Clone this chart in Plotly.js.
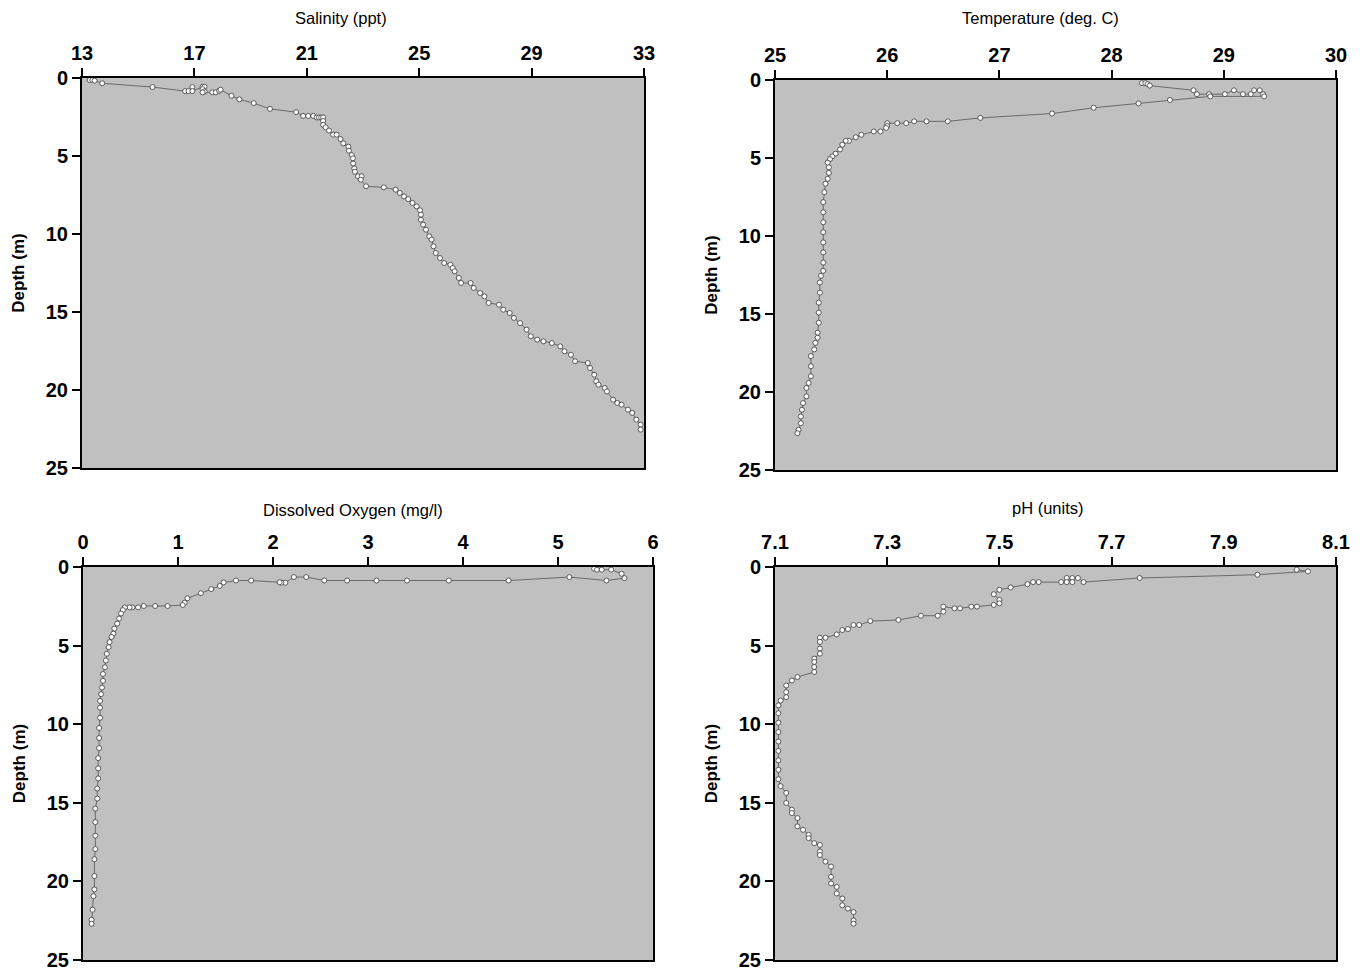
<!DOCTYPE html>
<html>
<head>
<meta charset="utf-8">
<script src="https://cdn.plot.ly/plotly-3.0.1.min.js"></script>
<style>html,body{margin:0;padding:0;background:#fff;}#chart{width:1366px;height:971px;}</style>
</head>
<body>
<div id="chart"></div>
<script>
// ---------- Salinity (ppt) ----------
const salValue = [13.27,13.37,13.45,13.72,15.51,16.67,16.79,16.93,16.93,17.29,17.36,17.29,17.36,17.29,17.64,17.76,17.88,17.93,18.32,18.6,19.11,19.69,20.62,20.87,21.05,21.23,21.35,21.43,21.51,21.58,21.58,21.58,21.67,21.79,21.94,22.06,22.2,22.3,22.48,22.5,22.6,22.64,22.65,22.69,22.71,22.82,22.95,22.92,23.11,23.74,24.16,24.31,24.46,24.61,24.76,24.91,25.03,25.06,25.06,25.14,25.24,25.36,25.44,25.51,25.59,25.74,25.89,26.11,26.19,26.26,26.41,26.49,26.83,26.94,27.17,27.32,27.47,27.84,27.99,28.22,28.37,28.59,28.82,28.97,29.2,29.42,29.72,30.02,30.17,30.4,30.55,31.0,31.08,31.23,31.3,31.38,31.6,31.68,31.9,32.05,32.2,32.43,32.58,32.73,32.88,32.88];
const salDepth = [0.13,0.13,0.17,0.34,0.58,0.84,0.84,0.58,0.84,0.56,0.56,0.71,0.86,0.92,0.92,0.92,0.82,0.75,1.14,1.37,1.61,1.98,2.19,2.43,2.43,2.43,2.53,2.53,2.53,2.53,2.75,3.0,3.16,3.37,3.63,3.63,3.91,4.19,4.4,4.66,4.94,5.15,5.48,5.8,6.01,6.3,6.3,6.52,6.94,7.01,7.16,7.37,7.59,7.76,8.01,8.23,8.48,8.76,9.08,9.4,9.72,10.15,10.36,10.79,11.22,11.54,11.86,11.97,12.18,12.39,12.82,13.14,13.14,13.46,13.78,14.0,14.42,14.53,14.85,15.06,15.38,15.71,16.13,16.56,16.77,16.88,16.99,17.2,17.52,17.74,18.16,18.27,18.59,19.02,19.44,19.66,19.87,20.09,20.62,20.83,20.94,21.26,21.47,21.9,22.22,22.54];

// ---------- Temperature (deg. C) ----------
const tempValue = [28.27,28.30,28.32,28.34,28.73,28.76,28.87,29.01,29.09,29.17,29.24,29.27,29.32,29.35,29.36,28.88,28.52,28.24,27.84,27.47,26.83,26.54,26.35,26.24,26.17,26.09,26.00,26.00,25.99,25.94,25.88,25.77,25.72,25.66,25.63,25.60,25.58,25.54,25.51,25.49,25.47,25.48,25.48,25.47,25.45,25.44,25.43,25.43,25.43,25.43,25.43,25.43,25.43,25.43,25.41,25.40,25.40,25.39,25.39,25.39,25.38,25.38,25.36,25.35,25.32,25.32,25.32,25.30,25.28,25.28,25.25,25.24,25.23,25.23,25.21,25.20];
const tempDepth = [0.20,0.20,0.26,0.36,0.66,0.91,0.91,0.91,0.66,0.91,0.91,0.66,0.66,0.91,1.05,1.05,1.28,1.50,1.78,2.15,2.43,2.65,2.65,2.65,2.77,2.77,2.77,2.94,3.07,3.30,3.30,3.51,3.67,3.90,3.90,4.15,4.45,4.72,4.90,5.07,5.30,5.60,5.95,6.33,6.65,7.19,7.83,8.48,9.12,9.76,10.41,11.05,11.70,12.23,12.55,12.98,13.63,14.27,14.91,15.56,16.20,16.52,16.85,17.27,17.70,18.35,18.99,19.42,19.74,20.28,20.71,21.14,21.57,22.00,22.42,22.64];

// ---------- Dissolved Oxygen (mg/l) ----------
const doValue = [5.38,5.41,5.46,5.56,5.67,5.70,5.51,5.12,4.48,3.85,3.41,3.09,2.78,2.54,2.35,2.22,2.13,2.09,2.07,1.77,1.61,1.48,1.44,1.35,1.24,1.10,1.07,1.05,0.89,0.76,0.64,0.58,0.52,0.49,0.44,0.42,0.40,0.38,0.36,0.33,0.32,0.30,0.28,0.27,0.25,0.24,0.23,0.21,0.21,0.20,0.19,0.18,0.18,0.18,0.17,0.17,0.17,0.16,0.16,0.16,0.15,0.15,0.13,0.13,0.13,0.13,0.12,0.12,0.12,0.11,0.10,0.09,0.09];
const doDepth = [0.11,0.17,0.17,0.17,0.43,0.71,0.86,0.64,0.86,0.86,0.86,0.86,0.86,0.86,0.64,0.64,1.00,1.00,0.97,0.86,0.86,0.98,1.20,1.41,1.67,1.99,2.27,2.42,2.48,2.48,2.48,2.57,2.57,2.57,2.57,2.74,2.96,3.28,3.60,3.92,4.24,4.45,4.78,5.10,5.52,5.95,6.38,6.81,7.24,7.67,8.09,8.52,8.95,9.59,10.24,10.88,11.52,12.16,12.81,13.45,14.09,14.73,15.37,16.23,17.09,17.94,18.59,19.66,20.51,20.94,21.80,22.44,22.70];

// ---------- pH (units) ----------
const phValue = [8.03,8.05,7.96,7.75,7.65,7.64,7.63,7.62,7.63,7.62,7.61,7.57,7.56,7.55,7.52,7.50,7.49,7.50,7.50,7.49,7.46,7.45,7.43,7.42,7.40,7.40,7.39,7.36,7.32,7.27,7.25,7.24,7.23,7.22,7.21,7.19,7.18,7.18,7.18,7.18,7.17,7.17,7.17,7.17,7.14,7.13,7.12,7.12,7.12,7.11,7.106,7.106,7.106,7.106,7.106,7.106,7.106,7.106,7.106,7.11,7.12,7.12,7.13,7.13,7.14,7.14,7.15,7.16,7.16,7.17,7.18,7.18,7.18,7.19,7.20,7.20,7.20,7.21,7.21,7.22,7.22,7.23,7.24,7.24,7.24];
const phDepth = [0.17,0.28,0.49,0.70,0.96,0.70,0.70,0.70,0.96,0.96,0.96,0.96,0.96,1.09,1.30,1.45,1.73,2.09,2.31,2.41,2.52,2.52,2.63,2.63,2.52,2.84,3.10,3.10,3.37,3.44,3.69,3.69,3.95,4.01,4.29,4.50,4.50,4.76,5.19,5.51,5.83,6.04,6.36,6.68,7.00,7.22,7.54,7.96,8.28,8.50,8.80,9.30,9.90,10.50,11.10,11.70,12.30,12.90,13.50,13.94,14.37,15.01,15.44,15.65,15.97,16.50,16.72,17.04,17.25,17.57,17.68,18.10,18.32,18.74,19.06,19.71,20.13,20.35,20.77,21.09,21.52,21.73,21.95,22.48,22.69];

const axisTitles = ['Salinity (ppt)', 'Temperature (deg. C)', 'Dissolved Oxygen (mg/l)', 'pH (units)'];
const depthTitle = 'Depth (m)';
const salTicks = [13,17,21,25,29,33];
const tempTicks = [25,26,27,28,29,30];
const doTicks = [0,1,2,3,4,5,6];
const phTicks = [7.1,7.3,7.5,7.7,7.9,8.1];
const phTickText = ['7.1','7.3','7.5','7.7','7.9','8.1'];
const depthTicks = [0,5,10,15,20,25];

const W = 1366, H = 971;
const FONT = 'Liberation Sans, Arial, Helvetica, sans-serif';

function trace(x, y, n) {
  return {
    type: 'scatter', mode: 'lines+markers',
    x: x, y: y,
    xaxis: 'x' + (n === 1 ? '' : n), yaxis: 'y' + (n === 1 ? '' : n),
    line: {color: '#6a6a6a', width: 1},
    marker: {symbol: 'circle', size: 5, color: '#ffffff', line: {color: '#3a3a3a', width: 0.8}},
    showlegend: false, hoverinfo: 'x+y'
  };
}

function xAx(px0, px1, range, ticks, yName, tickText) {
  const a = {
    domain: [px0 / W, px1 / W], anchor: yName, side: 'top', range: range,
    tickmode: 'array', tickvals: ticks,
    showgrid: false, zeroline: false,
    showline: true, linecolor: '#000', linewidth: 2, mirror: true,
    ticks: 'outside', ticklen: 8, tickwidth: 2, tickcolor: '#000',
    tickfont: {family: FONT, size: 20, color: '#000', weight: 'bold'},
    automargin: false, fixedrange: true
  };
  if (tickText) a.ticktext = tickText;
  return a;
}
function yAx(py0, py1, xName) {
  return {
    domain: [1 - py1 / H, 1 - py0 / H], anchor: xName, range: [25, 0],
    tickmode: 'array', tickvals: depthTicks,
    showgrid: false, zeroline: false,
    showline: true, linecolor: '#000', linewidth: 2, mirror: true,
    ticks: 'outside', ticklen: 8, tickwidth: 2, tickcolor: '#000',
    tickfont: {family: FONT, size: 20, color: '#000', weight: 'bold'},
    title: {text: depthTitle, font: {family: FONT, size: 17, color: '#000', weight: 'bold'}, standoff: 17},
    automargin: false, fixedrange: true
  };
}

// x-axis titles sit above the top axes, slightly left of the axis centre as in the original
function topTitle(text, cx, cy) {
  return {
    text: text, xref: 'paper', yref: 'paper', x: cx / W, y: 1 - cy / H,
    xanchor: 'center', yanchor: 'middle', showarrow: false,
    font: {family: FONT, size: 16.5, color: '#000'}
  };
}

const data = [
  trace(salValue, salDepth, 1),
  trace(tempValue, tempDepth, 2),
  trace(doValue, doDepth, 3),
  trace(phValue, phDepth, 4)
];

const layout = {
  width: W, height: H,
  margin: {l: 0, r: 0, t: 0, b: 0},
  paper_bgcolor: '#ffffff', plot_bgcolor: '#c0c0c0',
  font: {family: FONT, color: '#000'},
  xaxis:  xAx(82, 644, [13, 33], salTicks, 'y'),
  yaxis:  yAx(78, 468, 'x'),
  xaxis2: xAx(775, 1336, [25, 30], tempTicks, 'y2'),
  yaxis2: yAx(80, 470, 'x2'),
  xaxis3: xAx(83, 653, [0, 6], doTicks, 'y3'),
  yaxis3: yAx(567, 960, 'x3'),
  xaxis4: xAx(775, 1336, [7.1, 8.1], phTicks, 'y4', phTickText),
  yaxis4: yAx(567, 960, 'x4'),
  annotations: [
    topTitle(axisTitles[0], 341, 18),
    topTitle(axisTitles[1], 1040, 18),
    topTitle(axisTitles[2], 353, 510),
    topTitle(axisTitles[3], 1048, 508)
  ]
};

Plotly.newPlot('chart', data, layout, {displayModeBar: false, staticPlot: true});
</script>
</body>
</html>
